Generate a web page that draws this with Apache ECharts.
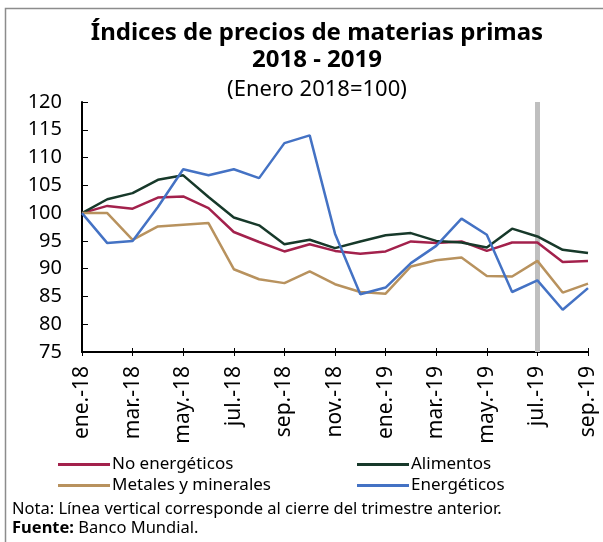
<!DOCTYPE html>
<html>
<head>
<meta charset="utf-8">
<script src="https://cdn.jsdelivr.net/npm/echarts@6/dist/echarts.min.js"></script>
<style>
  html, body { margin: 0; padding: 0; background: #fff; }
  #chart { width: 603px; height: 542px; }
</style>
</head>
<body>
<div id="chart"></div>
<script>
var months = ['ene.-18','feb.-18','mar.-18','abr.-18','may.-18','jun.-18','jul.-18','ago.-18','sep.-18','oct.-18','nov.-18','dic.-18',
  'ene.-19','feb.-19','mar.-19','abr.-19','may.-19','jun.-19','jul.-19','ago.-19','sep.-19']

// indices (Enero 2018 = 100)
var noEnergeticos = [100,101.3,100.8,102.8,103.0,100.9,96.6,94.8,93.1,94.4,93.2,92.7,93.1,94.9,94.6,94.9,93.2,94.7,94.7,91.2,91.4]
var alimentos = [100,102.5,103.6,106.0,106.8,102.9,99.2,97.8,94.4,95.2,93.7,94.9,96.0,96.4,95.0,94.7,93.8,97.2,95.8,93.4,92.8]
var metales = [100,100,95.2,97.6,97.9,98.2,89.9,88.1,87.4,89.5,87.2,85.8,85.5,90.4,91.5,92.0,88.7,88.6,91.4,85.7,87.3]
var energeticos = [100,94.6,95.0,101.1,107.9,106.8,107.9,106.3,112.6,114.0,96.3,85.4,86.6,91.0,94.1,99.0,96.1,85.8,87.9,82.6,86.5]

var corte = 'jul.-19' // cierre del trimestre anterior

var fuente = '"Noto Sans", "DejaVu Sans", sans-serif'
var chart = echarts.init(document.getElementById('chart'))

function serie(nombre, datos, color, extra) {
  var s = {
    name: nombre,
    type: 'line',
    data: datos,
    symbol: 'none',
    lineStyle: { color: color, width: 2.5 },
    itemStyle: { color: color },
    z: 3
  }
  if (extra) s.markLine = extra
  return s
}

var option = {
  animation: false,
  backgroundColor: '#fff',
  textStyle: { fontFamily: fuente },
  title: [
    {
      text: 'Índices de precios de materias primas\n2018 - 2019',
      left: 312,
      top: 15,
      textAlign: 'center',
      textStyle: { fontSize: 24, fontWeight: 'bold', color: '#000', lineHeight: 27, fontFamily: fuente }
    },
    {
      text: '(Enero 2018=100)',
      left: 312,
      top: 74,
      textAlign: 'center',
      textStyle: { fontSize: 22, fontWeight: 'normal', color: '#000', fontFamily: fuente }
    }
  ],
  legend: [
    {
      orient: 'vertical',
      left: 53,
      top: 451,
      itemGap: 4,
      itemWidth: 52,
      itemHeight: 3,
      icon: 'rect',
      data: ['No energéticos', 'Metales y minerales'],
      textStyle: { fontSize: 17, color: '#000', padding: [0, 0, 0, -3] }
    },
    {
      orient: 'vertical',
      left: 352,
      top: 451,
      itemGap: 4,
      itemWidth: 52,
      itemHeight: 3,
      icon: 'rect',
      data: ['Alimentos', 'Energéticos'],
      textStyle: { fontSize: 17, color: '#000', padding: [0, 0, 0, -3] }
    }
  ],
  grid: { left: 82, right: 15, top: 102, bottom: 190, containLabel: false },
  xAxis: [
    {
      type: 'category',
      data: months,
      boundaryGap: false,
      axisLine: { lineStyle: { color: '#000', width: 2 } },
      axisTick: { interval: 1, length: 4, lineStyle: { color: '#000', width: 1 } },
      axisLabel: { interval: 1, rotate: 90, fontSize: 21, color: '#000', margin: 14 },
      splitLine: { show: false }
    },
    {
      type: 'category',
      data: months,
      position: 'bottom',
      boundaryGap: false,
      axisLine: { show: false },
      axisTick: { inside: true, interval: 1, length: 4, lineStyle: { color: '#000', width: 1 } },
      axisLabel: { show: false },
      splitLine: { show: false }
    }
  ],
  yAxis: {
    type: 'value',
    min: 75,
    max: 120,
    interval: 5,
    axisLine: { show: true, lineStyle: { color: '#000', width: 2 } },
    axisTick: { show: true, inside: true, length: 6, lineStyle: { color: '#000', width: 1 } },
    axisLabel: { fontSize: 20, color: '#000', margin: 20 },
    splitLine: { show: false }
  },
  series: [
    serie('No energéticos', noEnergeticos, '#A3214C', {
      silent: true,
      symbol: ['none', 'none'],
      label: { show: false },
      lineStyle: { color: '#BFBFBF', width: 5, type: 'solid' },
      data: [{ xAxis: corte }],
      z: 1
    }),
    serie('Alimentos', alimentos, '#17392A'),
    serie('Metales y minerales', metales, '#B8925E'),
    serie('Energéticos', energeticos, '#4472C4')
  ],
  graphic: [
    {
      type: 'polyline',
      shape: { points: [[5.5, 542], [5.5, 8.5], [603, 8.5]] },
      style: { stroke: '#8c8c8c', lineWidth: 1.5, fill: null }
    },
    {
      type: 'text',
      left: 12,
      top: 501,
      style: { text: 'Nota: Línea vertical corresponde al cierre del trimestre anterior.', font: '16.5px ' + fuente, fill: '#000' }
    },
    {
      type: 'text',
      left: 12,
      top: 520,
      style: {
        text: '{b|Fuente:} Banco Mundial.',
        font: '16.5px ' + fuente,
        fill: '#000',
        rich: { b: { fontWeight: 'bold', fontSize: 16.5, fontFamily: fuente } }
      }
    }
  ]
}

chart.setOption(option)
</script>
</body>
</html>
